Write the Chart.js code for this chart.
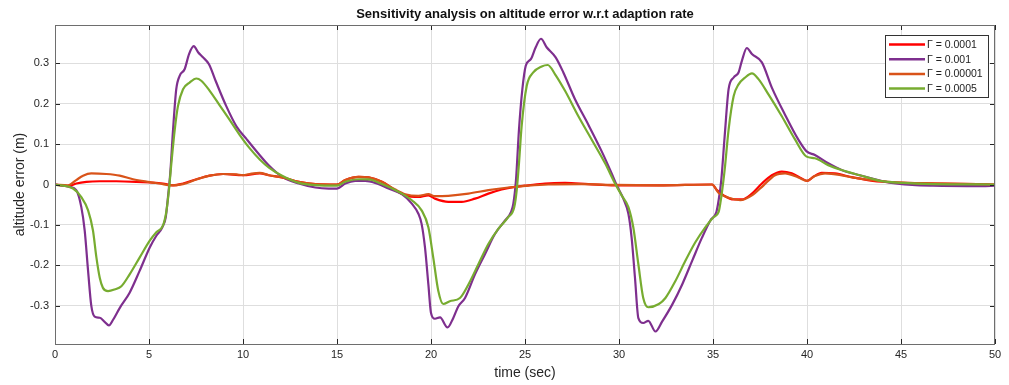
<!DOCTYPE html>
<html>
<head>
<meta charset="utf-8">
<script src="https://cdn.jsdelivr.net/npm/chart.js@4"></script>
<style>
  html, body { margin: 0; padding: 0; background: #fff; }
  #wrap { width: 1009px; height: 385px; position: relative; }
</style>
</head>
<body>
<div id="wrap"><canvas id="chart"></canvas></div>
<script>
const titleText = 'Sensitivity analysis on altitude error w.r.t adaption rate';
const xTicks = [0, 5, 10, 15, 20, 25, 30, 35, 40, 45, 50];
const yTicks = [-0.3, -0.2, -0.1, 0, 0.1, 0.2, 0.3];
const yTickLabels = ['-0.3', '-0.2', '-0.1', '0', '0.1', '0.2', '0.3'];
const labels = ['\u0393 = 0.0001', '\u0393 = 0.001', '\u0393 = 0.00001', '\u0393 = 0.0005'];

// Γ = 0.0001
const tRed = [0, 0.7, 1.13, 1.67, 2.38, 3.26, 4.33, 5.04, 5.74, 6.28,
  6.81, 7.52, 8.23, 8.94, 10.0, 10.89, 11.38, 12.08, 12.97, 13.85,
  15.0, 15.44, 16.15, 16.68, 17.39, 18.1, 18.63, 19.33, 19.86, 20.21,
  20.92, 21.63, 22.34, 23.05, 23.76, 24.47, 25.18, 26.06, 27.13, 28.37,
  29.79, 32.1, 34.95, 35.21, 35.57, 36.1, 36.54, 37.07, 37.6, 38.13,
  38.66, 39.19, 39.72, 40.0, 40.34, 40.78, 41.48, 42.45, 43.5, 44.75,
  47.2, 50];
const vRed = [0, -0.004, 0.0025, 0.0067, 0.008, 0.008, 0.0067, 0.005, 0.0025, -0.002,
  0.0025, 0.013, 0.022, 0.026, 0.023, 0.0275, 0.023, 0.0175, 0.0067, 0.001,
  0, 0.011, 0.019, 0.0175, 0.0067, -0.014, -0.027, -0.031, -0.027, -0.035,
  -0.043, -0.043, -0.035, -0.0225, -0.0125, -0.006, -0.002, 0.0025, 0.004, 0.001,
  -0.002, -0.002, 0, -0.014, -0.027, -0.037, -0.037, -0.0225, 0.0025, 0.023,
  0.032, 0.0275, 0.015, 0.009, 0.019, 0.029, 0.0275, 0.0175, 0.009, 0.005,
  0.0025, 0];

// Γ = 0.001
const tPurple = [0, 0.78, 1.13, 1.4, 1.58, 1.76, 1.93, 2.11, 2.38, 2.64,
  2.87, 3.09, 3.44, 3.97, 4.5, 5.04, 5.39, 5.71, 5.89, 6.01,
  6.13, 6.28, 6.45, 6.63, 6.9, 7.13, 7.38, 7.61, 7.87, 8.19,
  8.58, 9.11, 9.65, 10.18, 10.85, 11.38, 12.08, 12.97, 13.85, 14.56,
  15.0, 15.44, 15.97, 16.5, 17.03, 17.74, 18.45, 18.98, 19.33, 19.5,
  19.68, 19.86, 20.0, 20.21, 20.48, 20.88, 21.18, 21.45, 21.81, 22.34,
  22.87, 23.4, 23.94, 24.26, 24.38, 24.52, 24.68, 24.86, 25.04, 25.32,
  25.57, 25.85, 26.15, 26.63, 27.04, 27.66, 28.37, 29.08, 29.61, 29.88,
  30.23, 30.5, 30.67, 30.85, 31.03, 31.29, 31.56, 31.94, 32.3, 32.83,
  33.36, 33.89, 34.42, 34.86, 35.18, 35.3, 35.44, 35.62, 35.83, 36.1,
  36.36, 36.54, 36.8, 37.07, 37.6, 38.13, 38.83, 39.54, 39.98, 40.42,
  41.13, 41.84, 42.8, 44.2, 45.6, 46.7, 49.3, 50];
const vPurple = [0, -0.006, -0.014, -0.056, -0.114, -0.214, -0.3, -0.327, -0.33, -0.34,
  -0.349, -0.335, -0.306, -0.268, -0.214, -0.156, -0.127, -0.106, -0.081, -0.031,
  0.0275, 0.136, 0.236, 0.269, 0.286, 0.323, 0.3425, 0.3275, 0.315, 0.298,
  0.2525, 0.194, 0.144, 0.113, 0.075, 0.047, 0.019, 0.0025, -0.0075, -0.01,
  -0.01, 0.0025, 0.009, 0.009, 0.004, -0.01, -0.024, -0.0475, -0.0725, -0.0975,
  -0.156, -0.2475, -0.318, -0.3325, -0.329, -0.354, -0.331, -0.302, -0.281, -0.2225,
  -0.1725, -0.1225, -0.089, -0.068, -0.0475, 0.011, 0.136, 0.236, 0.294, 0.311,
  0.34, 0.361, 0.34, 0.315, 0.2775, 0.211, 0.148, 0.082, 0.0275, -0.002,
  -0.035, -0.0725, -0.131, -0.231, -0.331, -0.343, -0.3375, -0.364, -0.339, -0.2975,
  -0.2475, -0.189, -0.131, -0.089, -0.068, -0.039, 0.011, 0.119, 0.236, 0.265,
  0.2775, 0.307, 0.338, 0.323, 0.3025, 0.24, 0.173, 0.111, 0.082, 0.073,
  0.0525, 0.036, 0.023, 0.0067, -0.001, -0.003, -0.004, -0.003];

// Γ = 0.00001
const tOrange = [0, 0.69, 1.13, 1.49, 1.93, 2.73, 3.44, 4.15, 5.04, 5.74,
  6.1, 6.81, 7.52, 8.23, 8.94, 9.65, 10.0, 10.35, 10.89, 11.38,
  12.08, 12.97, 13.85, 15.0, 15.44, 16.15, 16.68, 17.39, 18.1, 18.63,
  19.33, 19.86, 20.21, 20.92, 21.99, 23.05, 24.11, 25.18, 26.24, 28.0,
  29.8, 32.1, 34.95, 35.3, 35.83, 36.45, 37.07, 37.69, 38.3, 38.83,
  39.54, 40.0, 40.42, 40.96, 42.72, 44.0, 45.5, 47.3, 50];
const vOrange = [0, -0.002, 0.011, 0.0217, 0.0275, 0.026, 0.022, 0.013, 0.006, 0.001,
  -0.002, 0.001, 0.0125, 0.022, 0.026, 0.025, 0.023, 0.026, 0.029, 0.023,
  0.0175, 0.0067, 0.001, 0, 0.011, 0.019, 0.0175, 0.0067, -0.0125, -0.024,
  -0.028, -0.024, -0.029, -0.028, -0.0225, -0.014, -0.0075, -0.003, 0, 0.001,
  -0.001, -0.002, 0, -0.021, -0.033, -0.039, -0.027, -0.002, 0.023, 0.0275,
  0.0175, 0.009, 0.021, 0.0275, 0.015, 0.008, 0.004, 0.0025, 0];

// Γ = 0.0005
const tGreen = [0, 0.96, 1.4, 1.76, 2.02, 2.2, 2.38, 2.55, 2.82, 3.17,
  3.53, 3.97, 4.5, 5.04, 5.39, 5.74, 5.92, 6.06, 6.19, 6.37,
  6.54, 6.81, 7.16, 7.52, 7.78, 8.23, 8.76, 9.29, 9.82, 10.35,
  10.89, 11.38, 12.08, 12.97, 13.85, 15.0, 15.44, 16.15, 16.68, 17.39,
  18.27, 18.98, 19.5, 19.86, 20.12, 20.39, 20.65, 21.0, 21.54, 21.99,
  22.52, 23.05, 23.58, 24.11, 24.43, 24.56, 24.68, 24.82, 25.09, 25.44,
  25.89, 26.21, 26.6, 27.13, 27.84, 28.55, 29.26, 29.79, 30.14, 30.5,
  30.76, 31.03, 31.29, 31.56, 32.12, 32.47, 33.0, 33.53, 34.06, 34.59,
  35.03, 35.3, 35.44, 35.62, 35.83, 36.1, 36.36, 36.71, 37.07, 37.42,
  37.95, 38.66, 39.37, 39.98, 40.42, 41.13, 41.84, 42.81, 43.88, 45.1,
  46.7, 50];
const vGreen = [0, -0.01, -0.031, -0.064, -0.114, -0.18, -0.231, -0.256, -0.264, -0.26,
  -0.252, -0.2225, -0.181, -0.139, -0.118, -0.102, -0.068, -0.014, 0.0525, 0.136,
  0.194, 0.236, 0.2525, 0.2625, 0.257, 0.232, 0.196, 0.16, 0.123, 0.09,
  0.062, 0.042, 0.0217, 0.004, -0.0017, -0.003, 0.0067, 0.013, 0.0125, 0.001,
  -0.018, -0.039, -0.064, -0.106, -0.181, -0.264, -0.296, -0.289, -0.281, -0.2475,
  -0.1975, -0.1475, -0.11, -0.081, -0.056, -0.014, 0.0525, 0.144, 0.244, 0.2775,
  0.2925, 0.296, 0.273, 0.232, 0.169, 0.111, 0.0525, 0.0025, -0.027, -0.056,
  -0.106, -0.1975, -0.281, -0.304, -0.296, -0.281, -0.239, -0.189, -0.143, -0.106,
  -0.081, -0.068, -0.031, 0.036, 0.136, 0.219, 0.248, 0.265, 0.275, 0.261,
  0.223, 0.169, 0.111, 0.069, 0.065, 0.048, 0.036, 0.023, 0.009, 0.004,
  0.001, 0];

const colors = ['#ff0000', '#7e2f8e', '#d95319', '#77ac30'];

function toPoints(t, v) {
  return t.map((x, i) => ({ x: x, y: v[i] }));
}

function makeSet(i, t, v, order) {
  return {
    label: labels[i],
    data: toPoints(t, v),
    borderColor: colors[i],
    backgroundColor: colors[i],
    borderWidth: 2.2,
    pointRadius: 0,
    cubicInterpolationMode: 'monotone',
    fill: false,
    order: order
  };
}

const axisColor = '#262626';
const fontFamily = '"Liberation Sans", Arial, sans-serif';

// box, inner tick marks, title and legend, drawn like the matlab figure
const framePlugin = {
  id: 'framePlugin',
  afterDraw(chart) {
    const ctx = chart.ctx;
    const a = chart.chartArea;
    const xs = chart.scales.x;
    const ys = chart.scales.y;
    ctx.save();
    ctx.strokeStyle = axisColor;
    ctx.lineWidth = 1;
    ctx.beginPath();
    xTicks.forEach(v => {
      const px = Math.round(xs.getPixelForValue(v)) + 0.5;
      ctx.moveTo(px, a.bottom); ctx.lineTo(px, a.bottom - 5);
      ctx.moveTo(px, a.top); ctx.lineTo(px, a.top + 5);
    });
    yTicks.forEach(v => {
      const py = Math.round(ys.getPixelForValue(v)) + 0.5;
      ctx.moveTo(a.left, py); ctx.lineTo(a.left + 5, py);
      ctx.moveTo(a.right, py); ctx.lineTo(a.right - 5, py);
    });
    ctx.stroke();
    ctx.strokeStyle = '#6e6e6e';
    ctx.strokeRect(Math.round(a.left) + 0.5, Math.round(a.top) + 0.5,
      Math.round(a.width) - 1, Math.round(a.height));

    // title
    ctx.fillStyle = '#111';
    ctx.font = 'bold 13px ' + fontFamily;
    ctx.textAlign = 'center';
    ctx.textBaseline = 'middle';
    ctx.fillText(titleText, (a.left + a.right) / 2, 14);

    // legend
    const bx = 885, by = 35, bw = 103, bh = 62;
    ctx.fillStyle = '#fff';
    ctx.fillRect(bx, by, bw, bh);
    ctx.strokeStyle = '#333';
    ctx.strokeRect(bx + 0.5, by + 0.5, bw, bh);
    ctx.font = '10.5px ' + fontFamily;
    ctx.textAlign = 'left';
    chart.data.datasets.forEach((ds, i) => {
      const ry = by + 9.5 + i * 14.7;
      ctx.strokeStyle = ds.borderColor;
      ctx.lineWidth = 2.5;
      ctx.beginPath();
      ctx.moveTo(bx + 4, ry);
      ctx.lineTo(bx + 40, ry);
      ctx.stroke();
      ctx.fillStyle = '#222';
      ctx.fillText(ds.label, bx + 42, ry + 0.5);
    });
    ctx.restore();
  }
};

Chart.defaults.font.family = fontFamily;

new Chart(document.getElementById('chart'), {
  type: 'line',
  data: {
    datasets: [
      makeSet(0, tRed, vRed, 4),
      makeSet(1, tPurple, vPurple, 3),
      makeSet(2, tOrange, vOrange, 2),
      makeSet(3, tGreen, vGreen, 1)
    ]
  },
  options: {
    responsive: true,
    maintainAspectRatio: false,
    animation: false,
    layout: { padding: { top: 25, right: 14, left: 0, bottom: 0 } },
    plugins: {
      legend: { display: false },
      title: { display: false },
      tooltip: { enabled: false }
    },
    scales: {
      x: {
        type: 'linear',
        min: 0,
        max: 50,
        afterFit: (scale) => { scale.height = 41; },
        afterBuildTicks: (scale) => { scale.ticks = xTicks.map(v => ({ value: v })); },
        ticks: { color: axisColor, font: { size: 11 }, padding: 4, maxRotation: 0, autoSkip: false },
        grid: { color: '#dedede', drawTicks: false },
        border: { display: false },
        title: { display: true, text: 'time (sec)', color: axisColor, font: { size: 14 }, padding: { top: 0, bottom: 3 } }
      },
      y: {
        type: 'linear',
        min: -0.395,
        max: 0.395,
        afterFit: (scale) => { scale.width = 55; },
        afterBuildTicks: (scale) => { scale.ticks = yTicks.map(v => ({ value: v })); },
        ticks: {
          color: axisColor,
          font: { size: 11 },
          padding: 6,
          callback: (value) => {
            const k = yTicks.findIndex(t => Math.abs(t - value) < 1e-9);
            return k >= 0 ? yTickLabels[k] : '';
          }
        },
        grid: { color: '#dedede', drawTicks: false },
        border: { display: false },
        title: { display: true, text: 'altitude error (m)', color: axisColor, font: { size: 14 }, padding: { top: 12, bottom: 0 } }
      }
    }
  },
  plugins: [framePlugin]
});
</script>
</body>
</html>
